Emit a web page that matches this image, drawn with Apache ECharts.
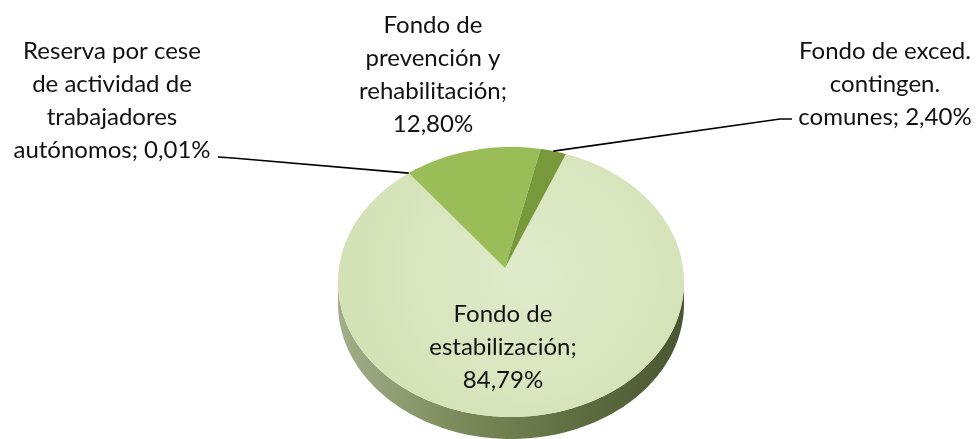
<!DOCTYPE html>
<html>
<head>
<meta charset="utf-8">
<script src="https://cdn.jsdelivr.net/npm/echarts@6/dist/echarts.min.js"></script>
<style>
html, body { margin: 0; padding: 0; background: #fff; }
#main { width: 978px; height: 439px; }
</style>
</head>
<body>
<div id="main"></div>
<script>
// datos del gráfico (porcentajes)
var categorias = [
    'Fondo de\nestabilización',
    'Reserva por cese\nde actividad de\ntrabajadores\nautónomos',
    'Fondo de\nprevención y\nrehabilitación',
    'Fondo de exced.\ncontingen.\ncomunes'
];
var valores = [84.79, 0.01, 12.80, 2.40];

// aspecto (no son datos)
var colores = ['#d8e5be', '#9bbd58', '#9bbd58', '#77983b'];
var separador = [';\n', '; ', ';\n', '; '];
var posEtiqueta = [[503, 347], [112, 101], [433, 75], [885, 84]];
// extremo de la línea guía junto al texto (null = sin línea)
var guia = [null, [[218, 157], [233, 158]], null, [[792, 119], [780, 119]]];

// elipse de la cara superior
var cx = 511, cy = 282, rx = 173, ry = 135;
var apexX = 505, apexY = 268;
var grosor = 22;
var anguloInicio = 18.5;

var total = valores.reduce(function (a, b) { return a + b; }, 0);

function punto(deg, dy) {
    var r = deg * Math.PI / 180;
    return [cx + rx * Math.sin(r), cy - ry * Math.cos(r) + (dy || 0)];
}

function arco(a, b, dy) {
    var pts = [];
    var n = Math.max(2, Math.ceil(Math.abs(b - a) / 1.5));
    for (var i = 0; i <= n; i++) {
        pts.push(punto(a + (b - a) * i / n, dy));
    }
    return pts;
}

function angulos(idx) {
    var acum = 0;
    for (var i = 0; i < idx; i++) acum += valores[i];
    var a = anguloInicio + acum / total * 360;
    var b = a + valores[idx] / total * 360;
    return [a, b];
}

function formato(v) {
    return v.toFixed(2).replace('.', ',') + '%';
}

function renderItem(params, api) {
    var idx = params.dataIndex;
    var v = api.value(0);
    var ang = angulos(idx);
    var a = ang[0], b = ang[1];
    var hijos = [];

    // lateral visible (mitad frontal, 90..270 grados)
    [[90, 270], [450, 630]].forEach(function (r) {
        var s = Math.max(a, r[0]), e = Math.min(b, r[1]);
        if (e > s) {
            var pts = arco(s, e, 0).concat(arco(e, s, grosor));
            hijos.push({
                type: 'polygon',
                shape: { points: pts },
                style: {
                    fill: {
                        type: 'linear', x: 0, y: 0, x2: 1, y2: 0,
                        colorStops: [
                            { offset: 0, color: '#a3ae8a' },
                            { offset: 0.35, color: '#7b8a5a' },
                            { offset: 0.7, color: '#5e6d40' },
                            { offset: 1, color: '#4a5632' }
                        ]
                    }
                }
            });
        }
    });

    // cara superior
    var cara = [[apexX, apexY]].concat(arco(a, b, 0));
    var relleno = colores[idx];
    if (idx === 0) {
        relleno = {
            type: 'radial', x: 0.55, y: 0.45, r: 0.75,
            colorStops: [
                { offset: 0, color: '#e0ebcb' },
                { offset: 1, color: '#d3e1b4' }
            ]
        };
    }
    hijos.push({
        type: 'polygon',
        shape: { points: cara },
        style: { fill: relleno }
    });

    // línea guía
    if (guia[idx]) {
        var fin = idx === 1 ? punto(a, 0) : punto((a + b) / 2, 0);
        hijos.push({
            type: 'polyline',
            shape: { points: guia[idx].concat([fin]) },
            style: { stroke: '#000', lineWidth: 1.6, fill: null }
        });
    }

    // etiqueta
    hijos.push({
        type: 'text',
        x: posEtiqueta[idx][0],
        y: posEtiqueta[idx][1],
        z2: 10,
        style: {
            text: categorias[idx] + separador[idx] + formato(v),
            fill: '#111',
            fontSize: 24,
            fontFamily: 'Lato',
            align: 'center',
            verticalAlign: 'middle',
            lineHeight: 33
        }
    });

    return { type: 'group', children: hijos };
}

var chart = echarts.init(document.getElementById('main'));
chart.setOption({
    animation: false,
    series: [{
        type: 'custom',
        coordinateSystem: 'none',
        silent: true,
        renderItem: renderItem,
        data: valores.map(function (v, i) { return { name: categorias[i], value: [v] }; })
    }]
});
</script>
</body>
</html>
